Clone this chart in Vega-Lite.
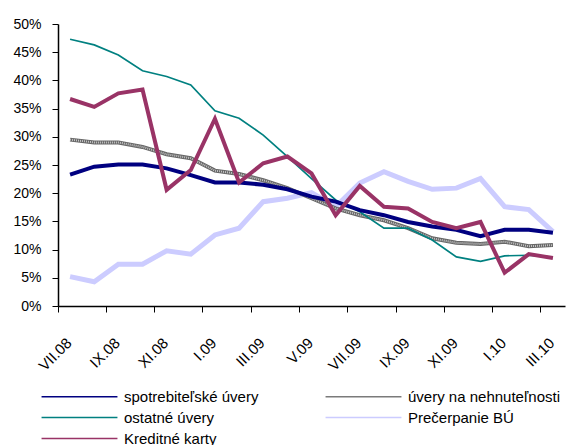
{
  "$schema": "https://vega.github.io/schema/vega-lite/v6.json",
  "autosize": "none",
  "width": 507,
  "height": 282,
  "padding": {"left": 58, "top": 24, "right": 3, "bottom": 139},
  "background": "white",
  "config": {
    "view": {"stroke": null},
    "font": "Liberation Sans",
    "line": {"strokeCap": "butt", "strokeJoin": "miter", "strokeMiterLimit": 4}
  },
  "data": {"values": [
    {"m": "VII.08", "s": "Prečerpanie BÚ", "v": 5.2},
    {"m": "VIII.08", "s": "Prečerpanie BÚ", "v": 4.3},
    {"m": "IX.08", "s": "Prečerpanie BÚ", "v": 7.4},
    {"m": "X.08", "s": "Prečerpanie BÚ", "v": 7.4},
    {"m": "XI.08", "s": "Prečerpanie BÚ", "v": 9.8},
    {"m": "XII.08", "s": "Prečerpanie BÚ", "v": 9.2},
    {"m": "I.09", "s": "Prečerpanie BÚ", "v": 12.6},
    {"m": "II.09", "s": "Prečerpanie BÚ", "v": 13.8},
    {"m": "III.09", "s": "Prečerpanie BÚ", "v": 18.5},
    {"m": "IV.09", "s": "Prečerpanie BÚ", "v": 19.1},
    {"m": "V.09", "s": "Prečerpanie BÚ", "v": 20.1},
    {"m": "VI.09", "s": "Prečerpanie BÚ", "v": 17.6},
    {"m": "VII.09", "s": "Prečerpanie BÚ", "v": 21.8},
    {"m": "VIII.09", "s": "Prečerpanie BÚ", "v": 23.8},
    {"m": "IX.09", "s": "Prečerpanie BÚ", "v": 22.1},
    {"m": "X.09", "s": "Prečerpanie BÚ", "v": 20.7},
    {"m": "XI.09", "s": "Prečerpanie BÚ", "v": 20.9},
    {"m": "XII.09", "s": "Prečerpanie BÚ", "v": 22.6},
    {"m": "I.10", "s": "Prečerpanie BÚ", "v": 17.6},
    {"m": "II.10", "s": "Prečerpanie BÚ", "v": 17.1},
    {"m": "III.10", "s": "Prečerpanie BÚ", "v": 13.2},

    {"m": "VII.08", "s": "úvery na nehnuteľnosti", "v": 29.5},
    {"m": "VIII.08", "s": "úvery na nehnuteľnosti", "v": 29.0},
    {"m": "IX.08", "s": "úvery na nehnuteľnosti", "v": 29.0},
    {"m": "X.08", "s": "úvery na nehnuteľnosti", "v": 28.2},
    {"m": "XI.08", "s": "úvery na nehnuteľnosti", "v": 26.9},
    {"m": "XII.08", "s": "úvery na nehnuteľnosti", "v": 26.2},
    {"m": "I.09", "s": "úvery na nehnuteľnosti", "v": 24.0},
    {"m": "II.09", "s": "úvery na nehnuteľnosti", "v": 23.4},
    {"m": "III.09", "s": "úvery na nehnuteľnosti", "v": 22.3},
    {"m": "IV.09", "s": "úvery na nehnuteľnosti", "v": 20.9},
    {"m": "V.09", "s": "úvery na nehnuteľnosti", "v": 19.1},
    {"m": "VI.09", "s": "úvery na nehnuteľnosti", "v": 17.3},
    {"m": "VII.09", "s": "úvery na nehnuteľnosti", "v": 16.1},
    {"m": "VIII.09", "s": "úvery na nehnuteľnosti", "v": 15.2},
    {"m": "IX.09", "s": "úvery na nehnuteľnosti", "v": 13.8},
    {"m": "X.09", "s": "úvery na nehnuteľnosti", "v": 12.0},
    {"m": "XI.09", "s": "úvery na nehnuteľnosti", "v": 11.2},
    {"m": "XII.09", "s": "úvery na nehnuteľnosti", "v": 11.0},
    {"m": "I.10", "s": "úvery na nehnuteľnosti", "v": 11.4},
    {"m": "II.10", "s": "úvery na nehnuteľnosti", "v": 10.6},
    {"m": "III.10", "s": "úvery na nehnuteľnosti", "v": 10.8},

    {"m": "VII.08", "s": "ostatné úvery", "v": 47.3},
    {"m": "VIII.08", "s": "ostatné úvery", "v": 46.3},
    {"m": "IX.08", "s": "ostatné úvery", "v": 44.5},
    {"m": "X.08", "s": "ostatné úvery", "v": 41.7},
    {"m": "XI.08", "s": "ostatné úvery", "v": 40.7},
    {"m": "XII.08", "s": "ostatné úvery", "v": 39.2},
    {"m": "I.09", "s": "ostatné úvery", "v": 34.6},
    {"m": "II.09", "s": "ostatné úvery", "v": 33.3},
    {"m": "III.09", "s": "ostatné úvery", "v": 30.3},
    {"m": "IV.09", "s": "ostatné úvery", "v": 26.5},
    {"m": "V.09", "s": "ostatné úvery", "v": 22.6},
    {"m": "VI.09", "s": "ostatné úvery", "v": 18.8},
    {"m": "VII.09", "s": "ostatné úvery", "v": 16.7},
    {"m": "VIII.09", "s": "ostatné úvery", "v": 13.8},
    {"m": "IX.09", "s": "ostatné úvery", "v": 13.8},
    {"m": "X.09", "s": "ostatné úvery", "v": 11.7},
    {"m": "XI.09", "s": "ostatné úvery", "v": 8.7},
    {"m": "XII.09", "s": "ostatné úvery", "v": 7.9},
    {"m": "I.10", "s": "ostatné úvery", "v": 8.9},
    {"m": "II.10", "s": "ostatné úvery", "v": 9.0},
    {"m": "III.10", "s": "ostatné úvery", "v": 8.6},

    {"m": "VII.08", "s": "spotrebiteľské úvery", "v": 23.3},
    {"m": "VIII.08", "s": "spotrebiteľské úvery", "v": 24.7},
    {"m": "IX.08", "s": "spotrebiteľské úvery", "v": 25.1},
    {"m": "X.08", "s": "spotrebiteľské úvery", "v": 25.1},
    {"m": "XI.08", "s": "spotrebiteľské úvery", "v": 24.4},
    {"m": "XII.08", "s": "spotrebiteľské úvery", "v": 23.2},
    {"m": "I.09", "s": "spotrebiteľské úvery", "v": 21.9},
    {"m": "II.09", "s": "spotrebiteľské úvery", "v": 21.9},
    {"m": "III.09", "s": "spotrebiteľské úvery", "v": 21.5},
    {"m": "IV.09", "s": "spotrebiteľské úvery", "v": 20.7},
    {"m": "V.09", "s": "spotrebiteľské úvery", "v": 19.4},
    {"m": "VI.09", "s": "spotrebiteľské úvery", "v": 18.5},
    {"m": "VII.09", "s": "spotrebiteľské úvery", "v": 17.0},
    {"m": "VIII.09", "s": "spotrebiteľské úvery", "v": 16.1},
    {"m": "IX.09", "s": "spotrebiteľské úvery", "v": 14.9},
    {"m": "X.09", "s": "spotrebiteľské úvery", "v": 14.1},
    {"m": "XI.09", "s": "spotrebiteľské úvery", "v": 13.5},
    {"m": "XII.09", "s": "spotrebiteľské úvery", "v": 12.4},
    {"m": "I.10", "s": "spotrebiteľské úvery", "v": 13.5},
    {"m": "II.10", "s": "spotrebiteľské úvery", "v": 13.5},
    {"m": "III.10", "s": "spotrebiteľské úvery", "v": 13.0},

    {"m": "VII.08", "s": "Kreditné karty", "v": 36.7},
    {"m": "VIII.08", "s": "Kreditné karty", "v": 35.3},
    {"m": "IX.08", "s": "Kreditné karty", "v": 37.7},
    {"m": "X.08", "s": "Kreditné karty", "v": 38.4},
    {"m": "XI.08", "s": "Kreditné karty", "v": 20.6},
    {"m": "XII.08", "s": "Kreditné karty", "v": 24.1},
    {"m": "I.09", "s": "Kreditné karty", "v": 33.2},
    {"m": "II.09", "s": "Kreditné karty", "v": 21.9},
    {"m": "III.09", "s": "Kreditné karty", "v": 25.3},
    {"m": "IV.09", "s": "Kreditné karty", "v": 26.5},
    {"m": "V.09", "s": "Kreditné karty", "v": 23.5},
    {"m": "VI.09", "s": "Kreditné karty", "v": 16.1},
    {"m": "VII.09", "s": "Kreditné karty", "v": 21.3},
    {"m": "VIII.09", "s": "Kreditné karty", "v": 17.6},
    {"m": "IX.09", "s": "Kreditné karty", "v": 17.3},
    {"m": "X.09", "s": "Kreditné karty", "v": 14.9},
    {"m": "XI.09", "s": "Kreditné karty", "v": 13.8},
    {"m": "XII.09", "s": "Kreditné karty", "v": 14.9},
    {"m": "I.10", "s": "Kreditné karty", "v": 5.9},
    {"m": "II.10", "s": "Kreditné karty", "v": 9.2},
    {"m": "III.10", "s": "Kreditné karty", "v": 8.5}
  ]},
  "encoding": {
    "x": {
      "field": "m", "type": "ordinal", "sort": null,
      "scale": {"type": "band", "paddingInner": 0, "paddingOuter": 0},
      "axis": {
        "title": null,
        "values": ["VII.08", "IX.08", "XI.08", "I.09", "III.09", "V.09", "VII.09", "IX.09", "XI.09", "I.10", "III.10"],
        "bandPosition": 0,
        "domainColor": "black", "domainWidth": 1.5,
        "tickColor": "black", "tickSize": 6, "tickWidth": 1,
        "labelAngle": -45, "labelAlign": "right", "labelBaseline": "middle",
        "labelPadding": 28, "labelOffset": -1, "labelFontSize": 15, "labelColor": "black",
        "labelFont": "Liberation Sans", "labelOverlap": false, "grid": false
      }
    },
    "y": {
      "field": "v", "type": "quantitative",
      "scale": {"domain": [0, 50], "nice": false, "zero": true},
      "axis": {
        "title": null, "values": [0, 5, 10, 15, 20, 25, 30, 35, 40, 45, 50],
        "labelExpr": "datum.value + '%'",
        "domainColor": "black", "domainWidth": 1.5,
        "tickColor": "black", "tickSize": 6,
        "labelPadding": 11, "labelFontSize": 14, "labelColor": "black",
        "labelFont": "Liberation Sans", "labelOverlap": false, "grid": false
      }
    },
    "color": {
      "field": "s", "type": "nominal",
      "scale": {
        "domain": ["spotrebiteľské úvery", "ostatné úvery", "Kreditné karty", "úvery na nehnuteľnosti", "Prečerpanie BÚ"],
        "range": ["#000080", "#008080", "#993366", "#7a7a7a", "#ccccff"]
      },
      "legend": {
        "title": null, "orient": "none", "legendX": 14, "legendY": 365,
        "columns": 2, "columnPadding": 63, "rowPadding": 5,
        "symbolType": "M-8,0H8", "symbolSize": 90,
        "labelFontSize": 15, "labelFont": "Liberation Sans", "labelColor": "black",
        "labelOffset": 37, "labelLimit": 300,
        "encode": {
          "symbols": {
            "update": {
              "strokeWidth": {"signal": "datum.value === 'ostatné úvery' ? 1.7 : (datum.value === 'Prečerpanie BÚ' ? 5 : 4)"}
            }
          }
        }
      }
    }
  },
  "layer": [
    {
      "transform": [{"filter": "datum.s === 'Prečerpanie BÚ'"}],
      "mark": {"type": "line", "strokeWidth": 5}
    },
    {
      "transform": [{"filter": "datum.s === 'úvery na nehnuteľnosti'"}],
      "mark": {"type": "line", "strokeWidth": 4},
      "encoding": {"color": {"value": "#666666"}}
    },
    {
      "transform": [{"filter": "datum.s === 'úvery na nehnuteľnosti'"}],
      "mark": {"type": "line", "strokeWidth": 2, "strokeDash": [1, 1]},
      "encoding": {"color": {"value": "#c4c4c4"}}
    },
    {
      "transform": [{"filter": "datum.s === 'ostatné úvery'"}],
      "mark": {"type": "line", "strokeWidth": 1.7}
    },
    {
      "transform": [{"filter": "datum.s === 'spotrebiteľské úvery'"}],
      "mark": {"type": "line", "strokeWidth": 4}
    },
    {
      "transform": [{"filter": "datum.s === 'Kreditné karty'"}],
      "mark": {"type": "line", "strokeWidth": 4}
    }
  ]
}
